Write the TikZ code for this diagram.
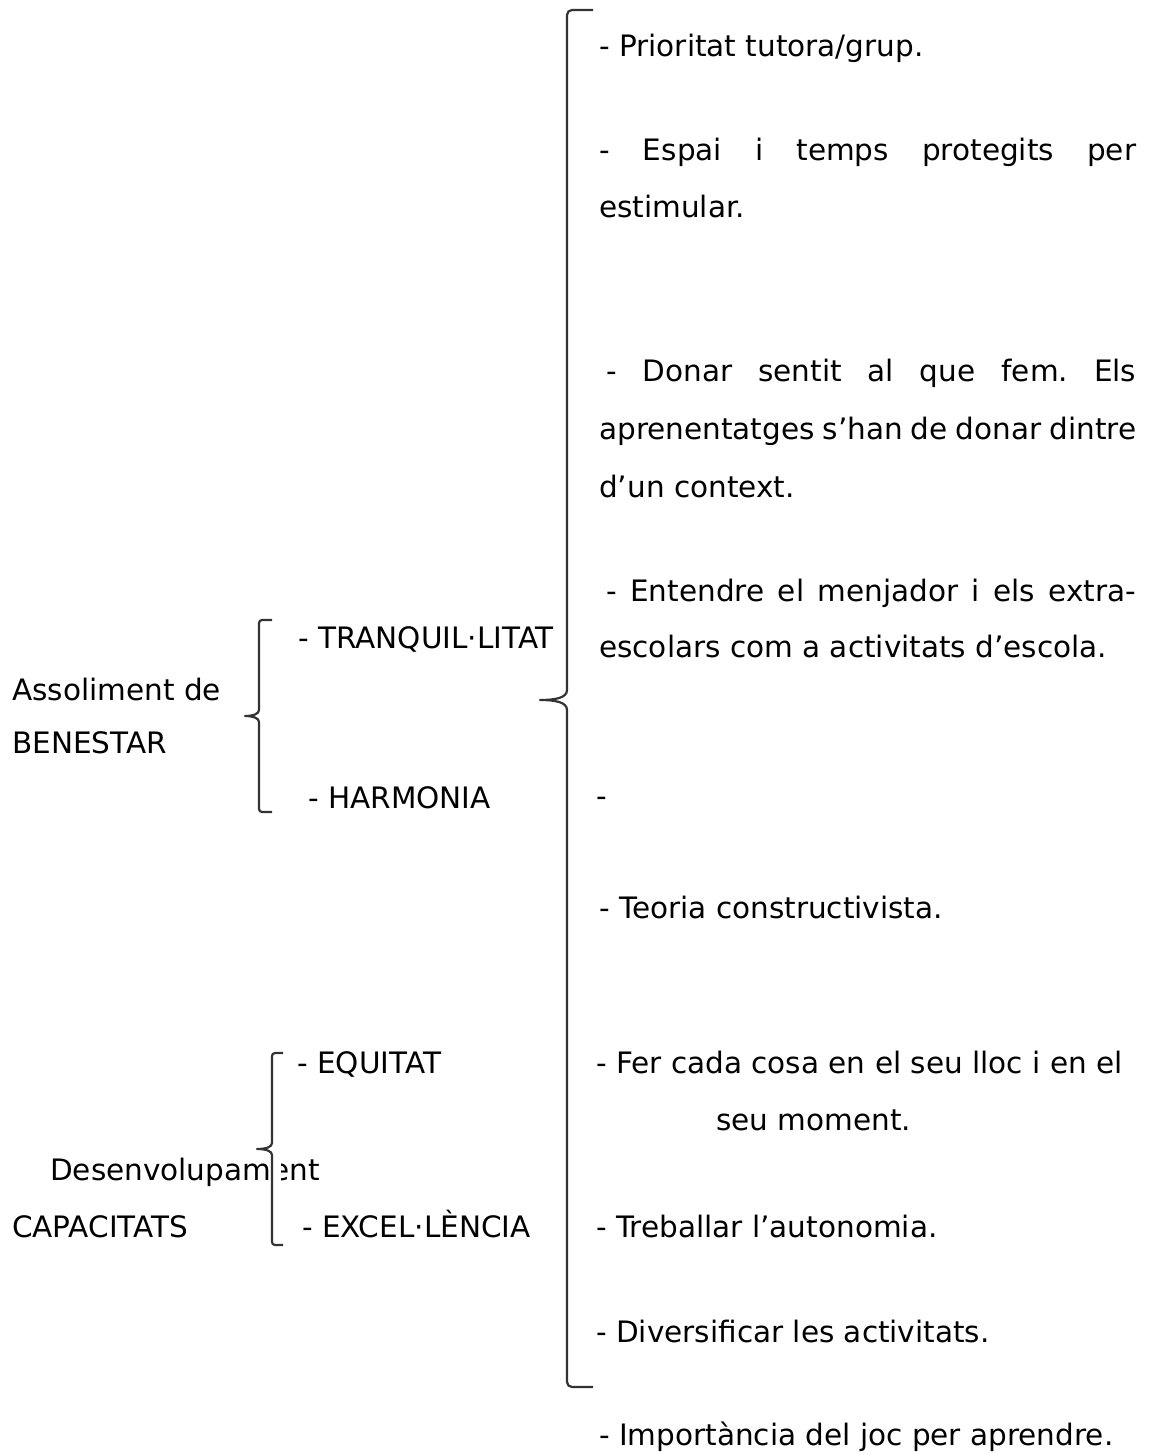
\documentclass[tikz,border=0pt]{standalone}
\usepackage{fontspec}
\setmainfont{DejaVu Sans}
\usepackage{tikz}
\frenchspacing

\tikzset{
  txt/.style={anchor=base west, inner sep=0pt, font=\fontsize{29.5}{35}\selectfont},
  clau/.style={line width=2.2pt, black!80, line join=round}
}

\begin{document}
\begin{tikzpicture}[x=1pt, y=-1pt]
		\useasboundingbox (0, 0) rectangle (1154, 1455);

		% columna dreta
		\node[txt] (prioritat) at (599, 57) {- Prioritat tutora/grup.};
		\node[txt] (espaiA) at (599, 161) {\makebox[537pt][s]{- Espai i temps protegits per}};
		\node[txt] (espaiB) at (599, 218) {estimular.};
		\node[txt] (sentitA) at (606, 381) {\makebox[530pt][s]{- Donar sentit al que fem. Els}};
		\node[txt] (sentitB) at (599, 439) {\makebox[537pt][s]{aprenentatges s’han de donar dintre}};
		\node[txt] (sentitC) at (599, 497) {d’un context.};
		\node[txt] (menjadorA) at (606, 601) {\makebox[530pt][s]{- Entendre el menjador i els extra-}};
		\node[txt] (menjadorB) at (599, 657) {escolars com a activitats d’escola.};
		\node[txt] (guio) at (596, 806) {-};
		\node[txt] (teoria) at (599, 918) {- Teoria constructivista.};
		\node[txt] (ferA) at (596, 1073) {- Fer cada cosa en el seu lloc i en el};
		\node[txt] (ferB) at (716, 1130) {seu moment.};
		\node[txt] (autonomia) at (596, 1237) {- Treballar l’autonomia.};
		\node[txt] (activitats) at (596, 1342) {- Diversificar les activitats.};
		\node[txt] (joc) at (599, 1445) {- Importància del joc per aprendre.};

		% columna esquerra
		\node[txt] (assoliment) at (12, 700) {Assoliment de};
		\node[txt] (benestar) at (12, 753) {BENESTAR};
		\node[txt] (tranquil) at (298, 648) {- TRANQUIL·LITAT};
		\node[txt] (harmonia) at (308, 808) {- HARMONIA};
		\node[txt] (equitat) at (297, 1073) {- EQUITAT};
		\node[txt] (desenvol) at (50, 1180) {Desenvolupament};
		\node[txt] (capacitats) at (12, 1237) {CAPACITATS};
		\node[txt] (excel) at (302, 1237) {- EXCEL·LÈNCIA};

		% la clau tapa part del text
		\fill[white] (273, 1150) rectangle (281, 1186);

		% claus
		\draw[clau] (593, 10) -- (572, 10) to[out=180, in=90] (567, 15) -- (567, 690)
			.. controls (567, 698) and (555, 700) .. (540, 700)
			.. controls (555, 700) and (567, 702) .. (567, 710) -- (567, 1382)
			to[out=-90, in=180] (572, 1387) -- (593, 1387);
		\draw[clau] (272, 620) -- (262, 620) to[out=180, in=90] (259, 623) -- (259, 710)
			.. controls (259, 714) and (253, 716) .. (245, 716)
			.. controls (253, 716) and (259, 718) .. (259, 722) -- (259, 809)
			to[out=-90, in=180] (262, 812) -- (272, 812);
		\draw[clau] (283, 1053) -- (275, 1053) to[out=180, in=90] (272, 1056) -- (272, 1143)
			.. controls (272, 1147) and (266, 1149) .. (257, 1149)
			.. controls (266, 1149) and (272, 1151) .. (272, 1155) -- (272, 1242)
			to[out=-90, in=180] (275, 1245) -- (283, 1245);

	\end{tikzpicture}
\end{document}
